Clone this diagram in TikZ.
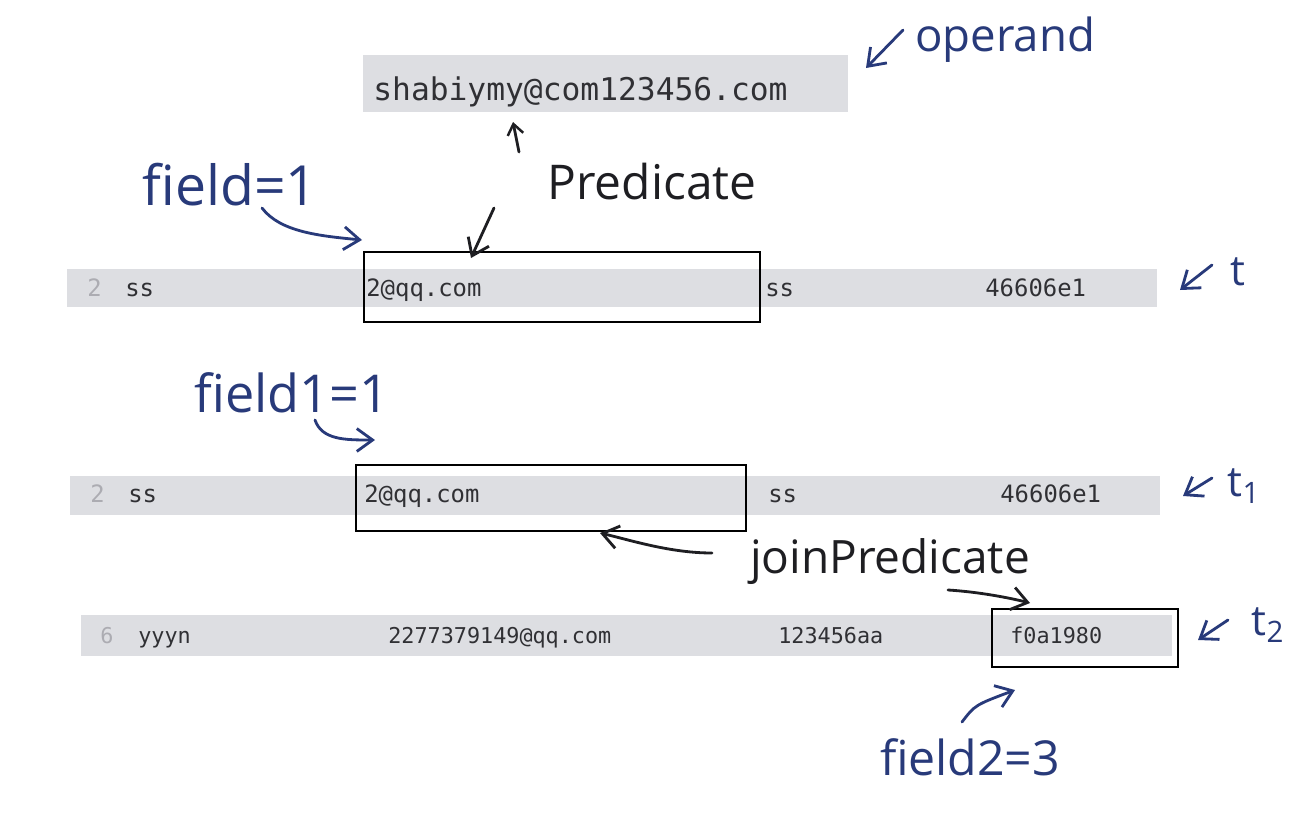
\documentclass[tikz,border=0pt]{standalone}
\usepackage{fontspec}
\usepackage{graphicx}
\usetikzlibrary{arrows.meta}
\newfontfamily\monof{DejaVu Sans Mono}
\newfontfamily\handf{Open Sans}
\definecolor{bandgray}{RGB}{221,222,226}
\definecolor{ink}{RGB}{40,58,122}
\definecolor{darkink}{RGB}{30,30,34}
\definecolor{txt}{RGB}{48,48,52}
\definecolor{num}{RGB}{172,172,178}
\tikzset{
  bandbox/.style={fill=bandgray, draw=none, inner sep=0, anchor=north west},
  cell/.style={font=\monof\fontsize{13.6}{16}\selectfont, text=txt, anchor=base west, inner sep=0},
  smallcell/.style={font=\monof\fontsize{12.4}{15}\selectfont, text=txt, anchor=base west, inner sep=0},
  rownum/.style={text=num},
  hl/.style={draw=black, line width=1.3pt, inner sep=0, anchor=north west},
  hand/.style={text=ink, inner sep=0, font=\handf},
  darkhand/.style={hand, text=darkink},
  tlabel/.style={hand, font=\handf\fontsize{24}{24}\selectfont},
  inkarrow/.style={draw=ink, line width=1.6pt, line cap=round, -{Straight Barb[length=9pt,width=13pt,line width=1.6pt]}},
  darkarrow/.style={inkarrow, draw=darkink}
}
\begin{document}
\begin{tikzpicture}[x=0.02cm,y=-0.02cm]
\useasboundingbox (0,0) rectangle (1316,818);
\fill[white] (0,0) rectangle (1316,818);

% operand box
\node[bandbox, minimum width=9.7cm, minimum height=1.14cm] (opband) at (363,55) {};
\node[cell, font=\monof\fontsize{17.8}{20}\selectfont] (op) at (373,100) {shabiymy@com123456.com};

% row t
\node[bandbox, minimum width=21.8cm, minimum height=0.76cm] (rowt) at (67,269) {};
\node[cell, rownum] (t0) at (87,296) {2};
\node[cell] (t1c) at (125,296) {ss};
\node[cell] (t2c) at (366,296) {2@qq.com};
\node[cell] (t3c) at (765,296) {ss};
\node[cell] (t4c) at (985,296) {46606e1};
\node[hl, minimum width=7.92cm, minimum height=1.4cm] (boxt) at (363,251) {};

% row t1
\node[bandbox, minimum width=21.8cm, minimum height=0.78cm] (rowa) at (70,476) {};
\node[cell, rownum] (a0) at (90,502) {2};
\node[cell] (a1c) at (128,502) {ss};
\node[cell] (a2c) at (364,502) {2@qq.com};
\node[cell] (a3c) at (768,502) {ss};
\node[cell] (a4c) at (1000,502) {46606e1};
\node[hl, minimum width=7.8cm, minimum height=1.32cm] (boxa) at (355,464) {};

% row t2
\node[bandbox, minimum width=21.82cm, minimum height=0.82cm] (rowb) at (81,615) {};
\node[smallcell, rownum] (b0) at (100,643) {6};
\node[smallcell] (b1c) at (138,643) {yyyn};
\node[smallcell] (b2c) at (388,643) {2277379149@qq.com};
\node[smallcell] (b3c) at (778,643) {123456aa};
\node[smallcell] (b4c) at (1010,643) {f0a1980};
\node[hl, minimum width=3.72cm, minimum height=1.16cm] (boxb) at (991,608) {};

% handwritten labels
\node[hand] (lop) at (1005,40) {\resizebox{3.6cm}{!}{operand}};
\node[darkhand] (lpred) at (652,182) {\resizebox{4.18cm}{!}{Predicate}};
\node[hand] (lf) at (230,185) {\resizebox{3.5cm}{!}{field=1}};
\node[hand] (lf1) at (292,393) {\resizebox{3.9cm}{!}{field1=1}};
\node[darkhand] (ljoin) at (890,562) {\resizebox{5.6cm}{!}{joinPredicate}};
\node[hand] (lf2) at (970,757) {\resizebox{3.6cm}{!}{field2=3}};
\node[tlabel] (lt) at (1238,272) {t};
\node[tlabel] (lt1) at (1244,486) {t\textsubscript{1}};
\node[tlabel] (lt2) at (1268,625) {t\textsubscript{2}};

% arrow endpoints
\coordinate (aop1) at (903,30);   \coordinate (aop2) at (866,68);
\coordinate (aup1) at (519,152);  \coordinate (aup2) at (513,122);
\coordinate (apr1) at (494,208);  \coordinate (apr2) at (471,258);
\coordinate (af1) at (262,208);   \coordinate (af2) at (362,240);
\coordinate (ag1) at (315,420);   \coordinate (ag2) at (375,440);
\coordinate (aj1) at (712,553);   \coordinate (aj2) at (600,533);
\coordinate (ak1) at (948,590);   \coordinate (ak2) at (1030,603);
\coordinate (at1) at (1212,265);  \coordinate (at2) at (1180,290);
\coordinate (au1) at (1212,478);  \coordinate (au2) at (1183,496);
\coordinate (av1) at (1228,620);  \coordinate (av2) at (1198,640);
\coordinate (aw1) at (962,722);   \coordinate (aw2) at (1015,690);

\draw[inkarrow] (aop1) -- (aop2);
\draw[darkarrow, -{Straight Barb[length=6pt,width=9pt,line width=1.4pt]}] (aup1) -- (aup2);
\draw[darkarrow] (apr1) -- (apr2);
\draw[inkarrow] (af1) .. controls (280,232) and (320,236) .. (af2);
\draw[inkarrow] (ag1) .. controls (322,440) and (345,440) .. (ag2);
\draw[darkarrow] (aj1) .. controls (670,553) and (630,540) .. (aj2);
\draw[darkarrow] (ak1) .. controls (980,592) and (1010,598) .. (ak2);
\draw[inkarrow] (at1) -- (at2);
\draw[inkarrow] (au1) -- (au2);
\draw[inkarrow] (av1) -- (av2);
\draw[inkarrow] (aw1) .. controls (975,705) .. (aw2);
\end{tikzpicture}
\end{document}
